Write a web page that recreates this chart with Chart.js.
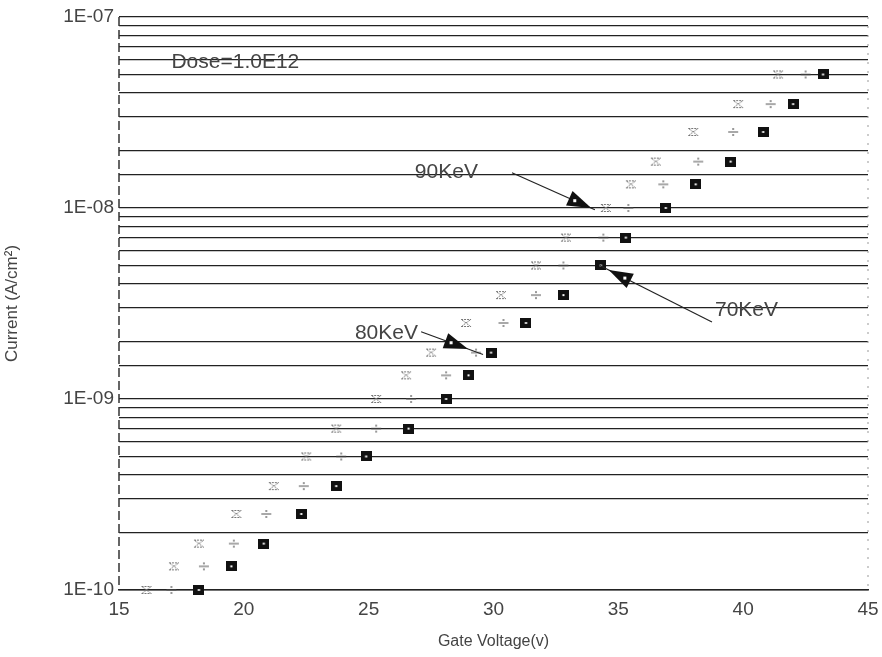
<!DOCTYPE html>
<html>
<head>
<meta charset="utf-8">
<script src="https://cdn.jsdelivr.net/npm/chart.js"></script>
<style>
  html, body { margin: 0; padding: 0; background: #fff; }
  #wrap { width: 882px; height: 657px; }
</style>
</head>
<body>
<div id="wrap"><canvas id="ivChart" width="882" height="657"></canvas></div>
<script>
// current levels (A/cm2) and the gate voltage reached at each level
const currents = [1e-10, 1.33e-10, 1.75e-10, 2.5e-10, 3.5e-10, 5e-10, 7e-10,
                  1e-9, 1.33e-9, 1.75e-9, 2.5e-9, 3.5e-9, 5e-9, 7e-9,
                  1e-8, 1.33e-8, 1.75e-8, 2.5e-8, 3.5e-8, 5e-8];
const v90 = [16.1, 17.2, 18.2, 19.7, 21.2, 22.5, 23.7, 25.3, 26.5, 27.5,
             28.9, 30.3, 31.7, 32.9, 34.5, 35.5, 36.5, 38.0, 39.8, 41.4];
const v80 = [17.1, 18.4, 19.6, 20.9, 22.4, 23.9, 25.3, 26.7, 28.1, 29.3,
             30.4, 31.7, 32.8, 34.4, 35.4, 36.8, 38.2, 39.6, 41.1, 42.5];
const v70 = [18.2, 19.5, 20.8, 22.3, 23.7, 24.9, 26.6, 28.1, 29.0, 29.9,
             31.3, 32.8, 34.3, 35.3, 36.9, 38.1, 39.5, 40.8, 42.0, 43.2];
const energies = ['90KeV', '80KeV', '70KeV'];

// text notes and arrows, in axis units
const notes = [
  { text: 'Dose=1.0E12', x: 17.1, y: 5.8e-8 },
  { text: '90KeV', x: 26.85, y: 1.54e-8 },
  { text: '80KeV', x: 24.45, y: 2.2e-9 },
  { text: '70KeV', x: 38.87, y: 2.9e-9 }
];
const arrows = [
  { from: [30.74, 1.53e-8], to: [34.06, 9.8e-9], back: 4 },
  { from: [27.1, 2.25e-9], to: [29.58, 1.71e-9], back: 16 },
  { from: [38.75, 2.53e-9], to: [34.26, 5.0e-9], back: 10 }
];

const FONT = '"Liberation Sans", Arial, sans-serif';
const INK = '#444';

function markerCanvas(w, h, draw) {
  const c = document.createElement('canvas');
  c.width = w; c.height = h;
  draw(c.getContext('2d'), w, h);
  return c;
}

const starMark = markerCanvas(12, 10, (g, w, h) => {
  g.strokeStyle = '#777';
  g.lineWidth = 1;
  g.setLineDash([2, 1]);
  g.beginPath();
  g.moveTo(1, 1.5); g.lineTo(w - 1, 1.5);
  g.moveTo(1, h - 1.5); g.lineTo(w - 1, h - 1.5);
  g.moveTo(2, 2); g.lineTo(w - 2, h - 2);
  g.moveTo(w - 2, 2); g.lineTo(2, h - 2);
  g.stroke();
});

const plusMark = markerCanvas(12, 10, (g, w, h) => {
  g.strokeStyle = '#555';
  g.lineWidth = 1.2;
  g.beginPath();
  g.moveTo(1, h / 2); g.lineTo(w - 1, h / 2);
  g.moveTo(w / 2, 1); g.lineTo(w / 2, h / 2 - 2);
  g.moveTo(w / 2, h / 2 + 2); g.lineTo(w / 2, h - 1);
  g.stroke();
});

const squareMark = markerCanvas(11, 10, (g, w, h) => {
  g.fillStyle = '#111';
  g.fillRect(0, 0, w, h);
  g.fillStyle = '#fff';
  g.fillRect(w / 2 - 1, h / 2 - 1, 2, 2);
});

function series(label, volts, mark) {
  return {
    label: label,
    data: volts.map((v, i) => ({ x: v, y: currents[i] })),
    pointStyle: mark,
    pointRadius: 6,
    showLine: false,
    clip: false
  };
}

const notesPlugin = {
  id: 'notes',
  beforeDatasetsDraw(chart) {
    const { ctx, chartArea } = chart;
    ctx.save();
    // dashed left axis, faint dotted right frame
    ctx.strokeStyle = '#333';
    ctx.lineWidth = 1.5;
    ctx.setLineDash([9, 4]);
    ctx.beginPath();
    ctx.moveTo(chartArea.left, chartArea.top);
    ctx.lineTo(chartArea.left, chartArea.bottom);
    ctx.stroke();
    ctx.strokeStyle = '#999';
    ctx.lineWidth = 1;
    ctx.setLineDash([2, 7]);
    ctx.beginPath();
    ctx.moveTo(chartArea.right, chartArea.top);
    ctx.lineTo(chartArea.right, chartArea.bottom);
    ctx.stroke();
    ctx.restore();
  },
  afterDatasetsDraw(chart) {
    const { ctx } = chart;
    const xs = chart.scales.x, ys = chart.scales.y;
    ctx.save();
    ctx.font = '21px ' + FONT;
    ctx.fillStyle = INK;
    ctx.textAlign = 'left';
    ctx.textBaseline = 'middle';
    notes.forEach(n => {
      ctx.fillText(n.text, xs.getPixelForValue(n.x), ys.getPixelForValue(n.y));
    });

    arrows.forEach(a => {
      const x0 = xs.getPixelForValue(a.from[0]), y0 = ys.getPixelForValue(a.from[1]);
      const x1 = xs.getPixelForValue(a.to[0]), y1 = ys.getPixelForValue(a.to[1]);
      const len = Math.hypot(x1 - x0, y1 - y0);
      const ux = (x1 - x0) / len, uy = (y1 - y0) / len;
      ctx.strokeStyle = '#222';
      ctx.lineWidth = 1.2;
      ctx.beginPath();
      ctx.moveTo(x0, y0);
      ctx.lineTo(x1, y1);
      ctx.stroke();
      // triangular head
      const tx = x1 - ux * a.back, ty = y1 - uy * a.back;
      const bx = tx - ux * 24, by = ty - uy * 24;
      const px = -uy * 8, py = ux * 8;
      ctx.fillStyle = '#111';
      ctx.beginPath();
      ctx.moveTo(tx, ty);
      ctx.lineTo(bx + px, by + py);
      ctx.lineTo(bx - px, by - py);
      ctx.closePath();
      ctx.fill();
      ctx.fillStyle = '#fff';
      ctx.fillRect(bx + ux * 6 - 1.5, by + uy * 6 - 1.5, 3, 3);
    });
    ctx.restore();
  }
};

new Chart(document.getElementById('ivChart'), {
  type: 'scatter',
  data: {
    datasets: [
      series(energies[0], v90, starMark),
      series(energies[1], v80, plusMark),
      series(energies[2], v70, squareMark)
    ]
  },
  options: {
    responsive: false,
    animation: false,
    devicePixelRatio: 1,
    layout: { padding: { left: 0, top: 17, right: 14, bottom: 0 } },
    plugins: {
      legend: { display: false },
      tooltip: { enabled: false }
    },
    scales: {
      x: {
        type: 'linear',
        min: 15,
        max: 45,
        afterFit(scale) { scale.height = 67; },
        grid: { display: false, tickLength: 5 },
        border: { display: true, color: '#222', width: 1.5 },
        ticks: {
          stepSize: 5,
          padding: 3,
          color: INK,
          font: { family: FONT, size: 19 }
        },
        title: {
          display: true,
          text: 'Gate Voltage(v)',
          color: INK,
          font: { family: FONT, size: 16 },
          padding: { top: 0, bottom: 6 }
        }
      },
      y: {
        type: 'logarithmic',
        min: 1e-10,
        max: 1e-7,
        afterFit(scale) { scale.width = 119; },
        grid: { color: '#222', lineWidth: 1.3, drawTicks: false },
        border: { display: false },
        ticks: {
          autoSkip: false,
          padding: 5,
          color: INK,
          font: { family: FONT, size: 19 },
          callback(value) {
            const e = Math.log10(value);
            if (Math.abs(e - Math.round(e)) < 1e-6) {
              return '1E-' + String(-Math.round(e)).padStart(2, '0');
            }
            return '';
          }
        },
        title: {
          display: true,
          text: 'Current (A/cm²)',
          color: INK,
          font: { family: FONT, size: 17 },
          padding: { top: 2, bottom: 4 }
        }
      }
    }
  },
  plugins: [notesPlugin]
});
</script>
</body>
</html>
